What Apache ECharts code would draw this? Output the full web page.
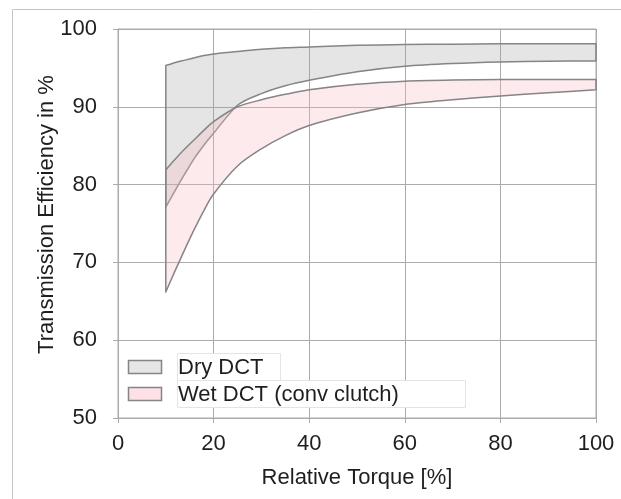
<!DOCTYPE html>
<html>
<head>
<meta charset="utf-8">
<script src="https://cdn.jsdelivr.net/npm/echarts@6/dist/echarts.min.js"></script>
<style>html,body{margin:0;padding:0;background:#fff}#c{width:621px;height:499px}</style>
</head>
<body>
<div id="c"></div>
<script>
var torque    = [10, 12, 14, 16, 18, 20, 25, 30, 35, 40, 50, 60, 70, 80, 90, 100];
var dryUpper  = [95.3, 95.7, 96.0, 96.3, 96.6, 96.8, 97.1, 97.4, 97.6, 97.7, 97.9, 98.0, 98.05, 98.1, 98.1, 98.1];
var dryLower  = [77.1, 79.3, 81.4, 83.4, 85.1, 86.6, 90.2, 91.7, 92.7, 93.4, 94.5, 95.2, 95.55, 95.75, 95.85, 95.9];
var wetUpper  = [81.9, 83.3, 84.6, 85.8, 87.0, 88.1, 90.0, 90.9, 91.6, 92.2, 92.9, 93.3, 93.45, 93.5, 93.5, 93.5];
var wetLower  = [66.2, 69.0, 71.7, 74.3, 76.7, 78.8, 82.4, 84.6, 86.3, 87.6, 89.2, 90.3, 90.9, 91.4, 91.8, 92.2];
var xTicks = [0, 20, 40, 60, 80, 100];
var yTicks = [50, 60, 70, 80, 90, 100];
var legendNames = ['Dry DCT', 'Wet DCT (conv clutch)'];

var FONT = 'Liberation Sans, Arial, sans-serif';
var EDGE = '#858585';

// smooth Catmull-Rom path through pixel points (rendering only)
function curveTo(pts, start) {
  var d = start ? 'M' + pts[0][0] + ',' + pts[0][1] : 'L' + pts[0][0] + ',' + pts[0][1];
  var t = 0.8;
  for (var i = 0; i < pts.length - 1; i++) {
    var p0 = pts[Math.max(i - 1, 0)], p1 = pts[i], p2 = pts[i + 1], p3 = pts[Math.min(i + 2, pts.length - 1)];
    var c1x = p1[0] + (p2[0] - p0[0]) / 6 * t, c1y = p1[1] + (p2[1] - p0[1]) / 6 * t;
    var c2x = p2[0] - (p3[0] - p1[0]) / 6 * t, c2y = p2[1] - (p3[1] - p1[1]) / 6 * t;
    d += 'C' + c1x + ',' + c1y + ',' + c2x + ',' + c2y + ',' + p2[0] + ',' + p2[1];
  }
  return d;
}

function bandSeries(name, upper, lower, fill, z) {
  return {
    name: name, type: 'custom', z: z,
    data: torque.map(function (x, i) { return [x, lower[i], upper[i]]; }),
    encode: {x: 0, y: [1, 2]},
    renderItem: function (params, api) {
      if (params.dataIndex !== 0) return null;
      var up = torque.map(function (x, i) { return api.coord([x, upper[i]]); });
      var lo = torque.map(function (x, i) { return api.coord([x, lower[i]]); }).reverse();
      var d = curveTo(up, true) + curveTo(lo, false) + 'Z';
      return {
        type: 'path',
        shape: {pathData: d},
        style: {fill: fill, stroke: EDGE, lineWidth: 1.5, lineJoin: 'round'}
      };
    }
  };
}

var chart = echarts.init(document.getElementById('c'), null, {renderer: 'canvas'});
chart.setOption({
  animation: false,
  backgroundColor: '#fff',
  grid: {left: 118, right: 25, top: 29, bottom: 81, outerBoundsMode: 'none', show: true, borderColor: '#ababab', borderWidth: 1},
  xAxis: {
    type: 'value', min: xTicks[0], max: xTicks[xTicks.length - 1], interval: 20,
    name: 'Relative Torque [%]', nameLocation: 'middle', nameGap: 49, nameMoveOverlap: false,
    nameTextStyle: {fontFamily: FONT, fontSize: 22, color: '#1e1e1e'},
    axisLine: {show: true, lineStyle: {color: '#ababab', width: 1}},
    axisTick: {show: true, length: 5, lineStyle: {color: '#ababab'}},
    axisLabel: {fontFamily: FONT, fontSize: 22, color: '#1e1e1e', margin: 15},
    splitLine: {show: true, lineStyle: {color: '#ababab', width: 1}}
  },
  yAxis: {
    type: 'value', min: yTicks[0], max: yTicks[yTicks.length - 1], interval: 10,
    name: 'Transmission Efficiency in %', nameLocation: 'middle', nameGap: 60, nameMoveOverlap: false,
    nameTextStyle: {fontFamily: FONT, fontSize: 22, color: '#1e1e1e', padding: [0, 0, 0, 18]},
    axisLine: {show: true, lineStyle: {color: '#ababab', width: 1}},
    axisTick: {show: true, length: 5, lineStyle: {color: '#ababab'}},
    axisLabel: {fontFamily: FONT, fontSize: 22, color: '#1e1e1e', margin: 21},
    splitLine: {show: true, lineStyle: {color: '#ababab', width: 1}}
  },
  series: [
    bandSeries(legendNames[0], dryUpper, dryLower, 'rgba(160,160,160,0.27)', 2),
    bandSeries(legendNames[1], wetUpper, wetLower, 'rgba(245,185,195,0.30)', 3)
  ],
  graphic: [
    {type: 'rect', z: 100, silent: true, shape: {x: 12.5, y: 9.5, width: 700, height: 600},
     style: {fill: 'none', stroke: '#c4c4c4', lineWidth: 1}},
    {type: 'rect', z: 100, shape: {x: 177.5, y: 353.5, width: 103, height: 27},
     style: {fill: '#fff', stroke: '#e4e4e4', lineWidth: 1}},
    {type: 'rect', z: 100, shape: {x: 177.5, y: 380.5, width: 288, height: 27},
     style: {fill: '#fff', stroke: '#e4e4e4', lineWidth: 1}},
    {type: 'rect', z: 101, shape: {x: 128.5, y: 360.5, width: 33, height: 13},
     style: {fill: '#e6e6e6', stroke: EDGE, lineWidth: 1.5}},
    {type: 'rect', z: 101, shape: {x: 128.5, y: 387.5, width: 33, height: 13},
     style: {fill: '#fde1e6', stroke: EDGE, lineWidth: 1.5}},
    {type: 'text', z: 102, x: 178, y: 367.5,
     style: {text: legendNames[0], font: '22px ' + FONT, fill: '#1e1e1e', verticalAlign: 'middle', align: 'left'}},
    {type: 'text', z: 102, x: 178, y: 394.5,
     style: {text: legendNames[1], font: '22px ' + FONT, fill: '#1e1e1e', verticalAlign: 'middle', align: 'left'}}
  ]
});
</script>
</body>
</html>
